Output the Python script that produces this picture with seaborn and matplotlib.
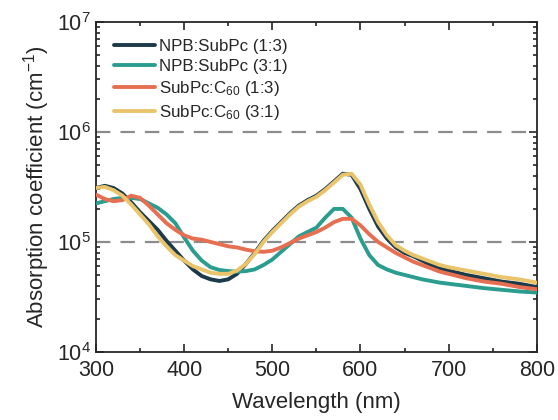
import numpy as np
import pandas as pd
import seaborn as sns
import matplotlib
matplotlib.use("Agg")
from matplotlib import pyplot as plt
from matplotlib.ticker import MultipleLocator, LogLocator

# wavelength grid (nm) and log10 of absorption coefficient
wavelength = [300, 310, 320, 330, 340, 350, 360, 370, 380, 390,
              400, 410, 420, 430, 440, 450, 460, 470, 480, 490,
              500, 510, 520, 530, 540, 550, 560, 570, 580, 590,
              600, 610, 620, 630, 640, 650, 660, 670, 680, 690,
              700, 720, 740, 760, 780, 800]

npb_subpc_13 = [5.49, 5.51, 5.49, 5.44, 5.36, 5.27, 5.19, 5.11, 5.01, 4.92,
                4.83, 4.75, 4.69, 4.66, 4.645, 4.66, 4.71, 4.80, 4.90, 5.01,
                5.10, 5.18, 5.26, 5.33, 5.38, 5.42, 5.48, 5.55, 5.62, 5.61,
                5.48, 5.30, 5.14, 5.03, 4.95, 4.90, 4.87, 4.83, 4.79, 4.76,
                4.74, 4.70, 4.67, 4.64, 4.62, 4.59]

npb_subpc_31 = [5.35, 5.37, 5.39, 5.40, 5.40, 5.39, 5.35, 5.31, 5.25, 5.17,
                5.04, 4.92, 4.83, 4.77, 4.745, 4.735, 4.73, 4.735, 4.75, 4.79,
                4.84, 4.91, 4.98, 5.05, 5.09, 5.13, 5.22, 5.30, 5.30, 5.22,
                5.03, 4.88, 4.79, 4.75, 4.72, 4.70, 4.68, 4.66, 4.645, 4.63,
                4.62, 4.60, 4.58, 4.565, 4.55, 4.54]

subpc_c60_13 = [5.43, 5.39, 5.37, 5.38, 5.42, 5.40, 5.33, 5.25, 5.17, 5.11,
                5.06, 5.03, 5.02, 5.00, 4.98, 4.96, 4.95, 4.93, 4.915, 4.91,
                4.92, 4.95, 4.99, 5.03, 5.06, 5.09, 5.13, 5.18, 5.21, 5.21,
                5.15, 5.07, 5.00, 4.95, 4.90, 4.86, 4.82, 4.79, 4.76, 4.73,
                4.71, 4.67, 4.64, 4.62, 4.59, 4.57]

subpc_c60_31 = [5.49, 5.50, 5.47, 5.42, 5.34, 5.25, 5.16, 5.05, 4.96, 4.88,
                4.83, 4.78, 4.75, 4.72, 4.71, 4.71, 4.74, 4.80, 4.89, 5.00,
                5.09, 5.17, 5.25, 5.32, 5.37, 5.41, 5.47, 5.54, 5.61, 5.62,
                5.52, 5.34, 5.18, 5.06, 4.97, 4.92, 4.88, 4.85, 4.82, 4.79,
                4.77, 4.74, 4.71, 4.68, 4.66, 4.63]

labels = ["NPB:SubPc (1:3)", "NPB:SubPc (3:1)",
          "SubPc:C$_{60}$ (1:3)", "SubPc:C$_{60}$ (3:1)"]
colors = ["#1d3a4b", "#2a9d8f", "#e76f51", "#e9c46a"]
ref_lines = [1e5, 1e6]

sns.set_style("ticks")
plt.rcParams['font.family'] = ['Liberation Sans', 'DejaVu Sans']
plt.rcParams['mathtext.fontset'] = 'custom'
plt.rcParams['mathtext.rm'] = 'Liberation Sans'
plt.rcParams['mathtext.it'] = 'Liberation Sans:italic'

frames = []
for name, vals in zip(labels, [npb_subpc_13, npb_subpc_31, subpc_c60_13, subpc_c60_31]):
    frames.append(pd.DataFrame({'wavelength': wavelength,
                                'alpha': 10 ** np.array(vals),
                                'sample': name}))
df = pd.concat(frames, ignore_index=True)

fig = plt.figure(figsize=(5.58, 4.2), dpi=100)
ax = fig.add_axes([0.172, 0.162, 0.79, 0.786])

for y in ref_lines:
    ax.axhline(y, color='#8c8c8c', lw=1.6, dashes=(6.5, 4.5), zorder=1)

sns.lineplot(data=df, x='wavelength', y='alpha', hue='sample', hue_order=labels,
             palette=colors, linewidth=2.8, ax=ax, sort=False,
             solid_capstyle='round', solid_joinstyle='round', zorder=3)

ax.set_yscale('log')
ax.set_xlim(300, 800)
ax.set_ylim(1e4, 1e7)
ax.xaxis.set_major_locator(MultipleLocator(100))
ax.xaxis.set_minor_locator(MultipleLocator(50))
ax.yaxis.set_major_locator(LogLocator(base=10, numticks=10))
ax.yaxis.set_minor_locator(LogLocator(base=10, subs=np.arange(2, 10), numticks=10))

ax.tick_params(which='both', direction='in', top=True, right=True, width=1.2)
ax.tick_params(which='major', length=6, labelsize=15.5)
ax.tick_params(which='minor', length=3)
ax.tick_params(axis='x', which='major', pad=6)
for sp in ax.spines.values():
    sp.set_linewidth(1.3)

ax.set_xlabel('Wavelength (nm)', fontsize=16, labelpad=8)
ax.set_ylabel('Absorption coefficient (cm$^{-1}$)', fontsize=16, labelpad=4)

ax.legend(frameon=False, loc='upper left', fontsize=12.2, handlelength=2.45,
          handletextpad=0.2, labelspacing=0.3, borderaxespad=0.4,
          bbox_to_anchor=(0.01, 0.99))

fig.savefig('out.png', dpi=100)
